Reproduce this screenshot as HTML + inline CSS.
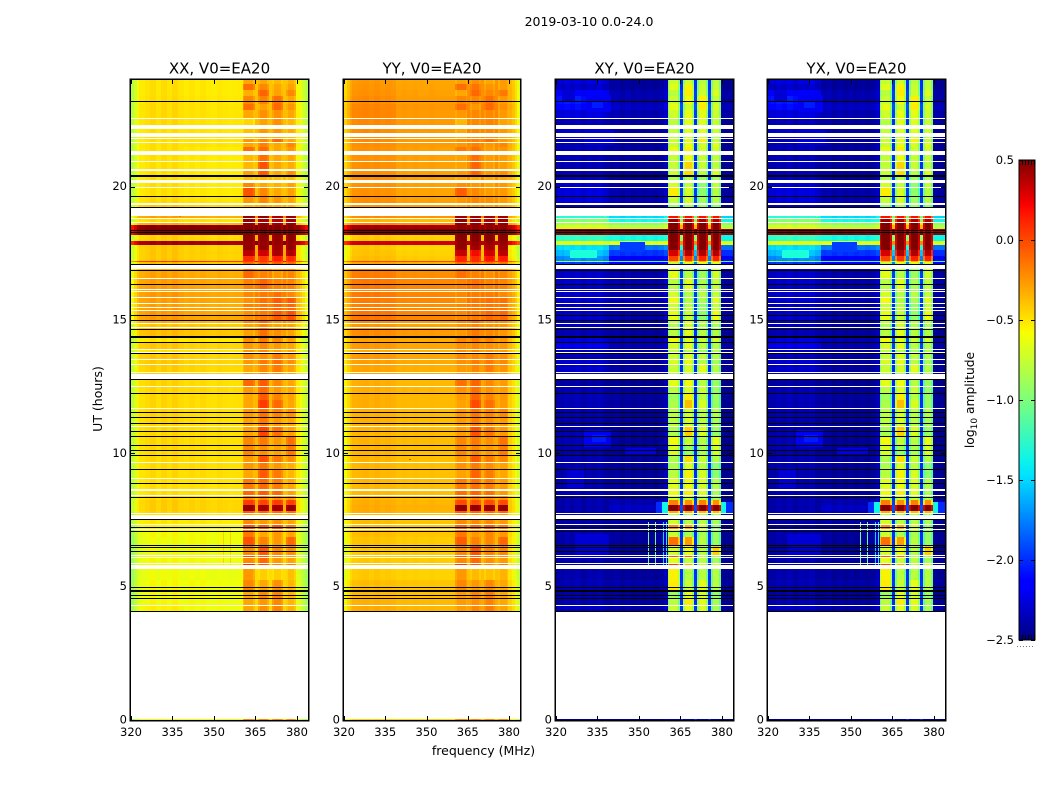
<!DOCTYPE html>
<html lang="en">
<head>
<meta charset="utf-8">
<title>2019-03-10 amplitude spectrogram</title>
<style>
html,body{margin:0;padding:0;background:#fff;}
svg{display:block;}
text{font-family:"DejaVu Sans","Liberation Sans",sans-serif;fill:#000;}
</style>
</head>
<body>
<svg id="chart" xmlns="http://www.w3.org/2000/svg" width="1050" height="800" viewBox="0 0 1050 800">
  <defs>
    <linearGradient id="jet-gradient" x1="0" y1="1" x2="0" y2="0">
      <stop offset="0" stop-color="#00007f"/>
      <stop offset="0.11" stop-color="#0000ff"/>
      <stop offset="0.125" stop-color="#0000ff"/>
      <stop offset="0.34" stop-color="#00e0ff"/>
      <stop offset="0.375" stop-color="#0cf4ea"/>
      <stop offset="0.5" stop-color="#7dff7a"/>
      <stop offset="0.64" stop-color="#f8ff00"/>
      <stop offset="0.66" stop-color="#ffea00"/>
      <stop offset="0.89" stop-color="#ff1300"/>
      <stop offset="0.91" stop-color="#f60000"/>
      <stop offset="1" stop-color="#7f0000"/>
    </linearGradient>
  </defs>
  <text x="589" y="26" font-size="12.5" text-anchor="middle">2019-03-10 0.0-24.0</text>
  <text x="483.5" y="755" font-size="12.5" text-anchor="middle">frequency (MHz)</text>
  <text x="0" y="0" font-size="12.5" text-anchor="middle" transform="translate(102,399) rotate(-90)">UT (hours)</text>
  <g id="panels"></g>
  <g id="colorbar">
    <rect x="1019" y="160" width="16" height="480" fill="url(#jet-gradient)" stroke="#000" stroke-width="1"/>
    <text x="0" y="0" font-size="12.3" text-anchor="middle" transform="translate(974,400) rotate(-90)">log<tspan font-size="9" dy="3">10</tspan><tspan dy="-3"> amplitude</tspan></text>
    <line x1="1017" y1="646.5" x2="1035" y2="646.5" stroke="#777" stroke-width="1" stroke-dasharray="1 2"/>
  </g>
</svg>
<script>
// ---- axis values ----
const panelTitles = ["XX, V0=EA20", "YY, V0=EA20", "XY, V0=EA20", "YX, V0=EA20"];
const xTickValues = [320, 335, 350, 365, 380];
const yTickValues = [0, 5, 10, 15, 20];
const colorTickValues = [0.5, 0, -0.5, -1, -1.5, -2, -2.5];
const colorTickLabels = ["0.5", "0.0", "\u22120.5", "\u22121.0", "\u22121.5", "\u22122.0", "\u22122.5"];

// ---- frequency channels (MHz edges) and which row-level column each channel reads ----
const freqEdgesMHz = [320,321,322,323,325,327,329,331,333,335,337,339,341,343,345,347,349,351,353,355,357,359,360.4,361,364.2,364.8,365.9,366.6,369.1,369.8,371,371.7,374.3,375,375.9,376.6,379.1,379.8,381,382,383,384];
const channelLevelColumn = [0,0,0,0,0,0,0,0,0,0,0,1,1,1,1,1,1,1,1,1,1,1,2,2,2,1,3,3,3,1,4,4,4,1,5,5,5,1,1,1,1];
const xxChannelOffset = [-.3,-.18,-.08,-.02,0,.03,-.01,.03,0,.04,0,0,.02,0,.02,0,-.01,.01,0,-.01,0,0,-.07,0,-.07,.13,-.07,0,-.07,.13,-.07,0,-.07,.13,-.07,0,-.07,-.04,-.1,-.17,-.28];
const yyChannelOffset = [-.22,-.13,-.05,0,.01,.02,0,.02,0,.01,0,0,.01,0,.01,0,0,.01,0,0,0,0,-.06,0,-.06,.06,-.06,0,-.06,.06,-.06,0,-.06,.06,-.06,0,-.06,-.06,-.12,-.2,-.32];
const xyChannelOffset = [0,.03,0,.05,.02,.06,0,.05,.03,.06,0,.03,.05,0,.04,0,.03,0,.03,0,.03,.1,-.2,.08,-.2,.45,-.2,.08,-.2,.45,-.2,.08,-.2,.45,-.2,.08,-.2,0,0,0,0];

// ---- time samples: each span is [later sample, earlier sample]; sample cadence below ----
const sampleHours = 0.0375;
const rowSpans = [[640,636],[636,630],[630,624],[624,616],[616,610],[610,602],[601,595],[591,587],[583,582],[581,578],[577,573],[573,569],[565,559],[558,551],[549,544],[544,540],[537,533],[532,524],[524,517],[515,512],[504,502],[501,498],[497,495],[495,491],[491,485],[485,479],[479,475],[475,470],[470,464],[464,459],[459,458],[458,456],[451,442],[441,431],[430,429],[428,423],[422,417],[416,413],[412,410],[409,400],[400,397],[396,393],[392,384],[384,378],[377,371],[370,368],[367,361],[360,356],[355,348],[347,346],[341,334],[333,327],[327,320],[320,312],[311,303],[303,294],[293,284],[284,275],[275,265],[265,258],[257,251],[251,242],[241,231],[229,225],[224,220],[220,215],[215,209],[209,207],[206,205],[201,196],[195,191],[190,183],[183,175],[175,165],[164,163],[162,157],[156,155],[151,140],[140,130],[130,122],[122,115],[114,109],[1.5,0]];

// ---- flagged integrations drawn as black lines (sample numbers) ----
const flagLineSamples = [619,545,544,524,513,490,488,456,450,436,405,400,391,384,383,378,367,341,327,308,303,297,289,284,275,270,265,251,237,223,201,193,189,175,173,169,133,130,129,125,122,109];

// ---- log10 amplitude per row: [bg 320-340, bg 340-360+gaps, block1, block2, block3, block4] ----
const xxLevels = [
[-.5,-.52,-.3,-.3,-.36,-.33],[-.5,-.52,-.12,-.2,-.3,-.28],[-.5,-.52,-.32,-.08,-.28,-.2],[-.49,-.51,-.2,-.18,-.12,-.3],[-.48,-.5,-.12,-.28,-.1,-.25],[-.48,-.5,-.3,-.22,-.22,-.3],[-.48,-.5,-.45,-.28,-.22,-.35],[-.5,-.5,-.38,-.25,-.25,-.32],[-.5,-.5,-.4,-.3,-.3,-.35],[-.5,-.5,-.25,-.2,-.1,-.3],
[-.5,-.5,-.3,-.18,-.3,-.2],[-.5,-.52,-.12,-.1,-.3,-.25],[-.5,-.52,-.35,-.12,-.3,-.3],[-.5,-.52,-.35,-.03,-.3,-.32],[-.5,-.52,-.28,-.05,-.3,-.22],[-.5,-.5,-.38,-.35,-.38,-.38],[-.5,-.52,-.2,-.3,-.33,-.28],[-.5,-.52,-.03,-.2,-.3,-.28],[-.48,-.5,-.25,-.2,-.25,-.3],[-.42,-.45,-.35,-.3,-.33,-.35],
[-.3,-.32,.45,.45,.4,.45],[-.48,-.5,.45,.4,.35,.42],[-.32,-.34,.45,.45,.42,.45],[.48,.48,.5,.5,.5,.5],[.5,.5,.5,.5,.5,.5],[-.45,-.47,.47,.47,.45,.47],[.4,.4,.45,.45,.45,.45],[-.42,-.45,.45,.45,.42,.45],[-.42,-.44,.35,.3,.4,.38],[-.42,-.44,.1,.05,.15,.1],
[.05,.05,.05,.08,.05,.05],[-.38,-.4,-.1,-.05,-.05,-.1],[-.3,-.32,-.1,-.18,-.25,-.2],[-.28,-.3,-.18,-.08,-.18,-.18],[-.3,-.3,-.2,-.15,-.2,-.2],[-.27,-.3,-.2,-.15,-.12,-.2],[-.28,-.3,-.22,-.12,-.05,-.05],[-.3,-.32,-.18,-.15,-.1,-.1],[-.28,-.3,-.2,-.12,-.08,-.1],[-.27,-.3,-.22,-.15,-.05,-.02],
[-.33,-.35,-.2,-.1,-.25,-.25],[-.42,-.42,-.3,-.2,-.3,-.3],[-.38,-.4,-.28,-.12,-.22,-.28],[-.52,-.52,-.22,-.15,-.2,-.28],[-.42,-.45,-.25,-.2,-.25,-.3],[-.5,-.5,-.25,-.2,-.28,-.3],[-.42,-.45,-.22,-.22,-.15,-.25],[-.42,-.45,-.25,-.15,-.12,-.22],[-.44,-.46,-.3,-.2,-.15,-.28],[-.45,-.45,-.25,-.2,-.2,-.3],
[-.46,-.48,-.1,-.05,-.2,-.3],[-.47,-.47,-.25,-.1,-.25,-.3],[-.47,-.48,-.3,-.05,-.18,-.28],[-.47,-.48,-.3,.05,-.1,-.3],[-.46,-.48,-.25,-.12,-.18,-.22],[-.46,-.48,-.28,-.15,-.25,-.3],[-.47,-.48,-.28,.02,-.12,-.28],[-.47,-.48,-.2,-.15,-.25,-.12],[-.47,-.48,-.2,-.22,-.28,-.15],[-.47,-.48,-.25,-.02,-.15,-.22],
[-.48,-.48,-.25,-.15,-.25,-.33],[-.48,-.48,-.3,-.05,-.15,-.35],[-.5,-.5,-.15,-.1,-.15,-.3],[-.5,-.5,-.1,-.05,-.1,-.28],[-.47,-.48,-.2,-.18,-.22,-.25],[-.44,-.45,.05,.02,.05,.05],[-.44,-.45,.45,.42,.42,.45],[-.46,-.47,-.05,-.08,-.1,-.12],[-.52,-.52,-.3,-.3,-.3,-.3],[-.52,-.52,-.2,-.25,-.22,-.3],
[-.55,-.55,-.03,-.05,-.03,-.15],[-.58,-.58,-.15,-.3,-.25,-.3],[-.6,-.58,-.02,-.18,-.25,-.1],[-.6,-.58,-.2,-.05,-.2,-.22],[-.6,-.58,0,-.05,-.2,-.25],[-.58,-.58,-.2,-.1,-.25,-.28],[-.58,-.58,.1,-.02,-.18,-.15],[-.6,-.6,-.25,-.42,-.42,-.38],[-.58,-.58,-.2,-.3,-.22,-.35],[-.58,-.58,-.3,-.2,-.18,-.35],
[-.58,-.58,-.3,-.25,-.2,-.35],[-.55,-.58,-.3,-.22,-.18,-.33],[-.6,-.6,-.2,-.2,-.2,-.2]];

const yyLevels = [
[-.26,-.3,-.28,-.22,-.3,-.26],[-.25,-.29,-.12,-.14,-.24,-.26],[-.24,-.28,-.3,-.1,-.2,-.15],[-.22,-.27,-.2,-.2,-.12,-.25],[-.2,-.25,-.12,-.25,-.1,-.22],[-.2,-.26,-.25,-.2,-.2,-.25],[-.21,-.26,-.35,-.2,-.18,-.28],[-.22,-.26,-.3,-.2,-.2,-.25],[-.22,-.26,-.3,-.22,-.22,-.28],[-.22,-.26,-.22,-.18,-.12,-.26],
[-.23,-.27,-.25,-.18,-.25,-.2],[-.24,-.28,-.15,-.12,-.26,-.24],[-.24,-.28,-.28,-.12,-.26,-.26],[-.23,-.28,-.28,-.08,-.26,-.27],[-.23,-.28,-.25,-.08,-.25,-.22],[-.23,-.28,-.3,-.3,-.3,-.3],[-.24,-.28,-.22,-.25,-.28,-.25],[-.24,-.29,-.06,-.2,-.26,-.25],[-.23,-.28,-.25,-.2,-.22,-.26],[-.24,-.27,-.28,-.25,-.28,-.28],
[-.22,-.24,.42,.42,.4,.42],[-.36,-.38,.46,.42,.4,.42],[-.2,-.22,.46,.46,.46,.46],[.4,.4,.46,.46,.46,.46],[.5,.5,.5,.5,.5,.5],[-.42,-.44,.48,.48,.48,.48],[.3,.3,.45,.45,.45,.45],[-.42,-.46,.45,.42,.4,.42],[-.4,-.44,.32,.2,.3,.35],[-.38,-.42,.12,.1,.18,.15],
[0,0,.1,.1,.08,.08],[-.3,-.33,-.1,-.12,-.12,-.12],[-.17,-.22,-.12,-.18,-.22,-.2],[-.16,-.2,-.18,-.12,-.18,-.18],[-.2,-.22,-.2,-.15,-.2,-.2],[-.16,-.2,-.2,-.16,-.15,-.2],[-.17,-.2,-.22,-.14,-.12,-.12],[-.19,-.23,-.2,-.16,-.15,-.15],[-.17,-.21,-.2,-.14,-.12,-.14],[-.15,-.2,-.2,-.16,-.1,-.1],
[-.22,-.26,-.2,-.12,-.22,-.22],[-.27,-.3,-.25,-.2,-.25,-.25],[-.22,-.26,-.25,-.15,-.2,-.24],[-.3,-.32,-.2,-.16,-.18,-.24],[-.26,-.3,-.22,-.2,-.22,-.25],[-.32,-.34,-.22,-.2,-.25,-.26],[-.26,-.3,-.2,-.2,-.16,-.22],[-.28,-.31,-.22,-.16,-.15,-.2],[-.3,-.33,-.26,-.2,-.16,-.24],[-.3,-.33,-.24,-.2,-.2,-.26],
[-.33,-.36,-.12,-.08,-.2,-.26],[-.33,-.35,-.22,-.12,-.22,-.26],[-.33,-.36,-.26,-.08,-.18,-.25],[-.33,-.36,-.28,0,-.12,-.26],[-.34,-.37,-.24,-.14,-.18,-.2],[-.34,-.37,-.26,-.16,-.22,-.26],[-.35,-.37,-.26,-.02,-.14,-.25],[-.35,-.37,-.2,-.15,-.22,-.14],[-.35,-.38,-.2,-.2,-.25,-.16],[-.35,-.38,-.24,-.05,-.16,-.2],
[-.36,-.38,-.24,-.16,-.22,-.28],[-.36,-.38,-.28,-.08,-.16,-.3],[-.36,-.38,-.16,-.12,-.16,-.26],[-.37,-.38,-.12,-.08,-.12,-.25],[-.36,-.38,-.2,-.18,-.2,-.22],[-.33,-.35,0,-.02,0,0],[-.32,-.34,.46,.45,.45,.46],[-.33,-.36,-.05,-.08,-.1,-.1],[-.38,-.4,-.25,-.25,-.25,-.25],[-.38,-.4,-.2,-.2,-.2,-.25],
[-.38,-.4,-.08,-.08,-.05,-.15],[-.38,-.4,-.15,-.25,-.2,-.25],[-.4,-.42,-.06,-.18,-.2,-.1],[-.42,-.42,-.2,-.03,-.18,-.2],[-.42,-.42,-.02,-.05,-.18,-.22],[-.42,-.42,-.2,-.1,-.22,-.25],[-.42,-.42,.05,-.03,-.18,-.15],[-.42,-.44,-.25,-.36,-.38,-.34],[-.38,-.4,-.2,-.25,-.2,-.3],[-.36,-.38,-.26,-.18,-.16,-.3],
[-.34,-.36,-.26,-.22,-.18,-.3],[-.32,-.35,-.26,-.2,-.16,-.28],[-.45,-.45,-.2,-.2,-.2,-.2]];

const xyLevels = [
[-2.3,-2.45,-.8,-.78,-.85,-.82],[-2.35,-2.45,-.72,-.62,-.8,-.8],[-2.2,-2.4,-.85,-.6,-.78,-.72],[-2.1,-2.4,-.8,-.65,-.62,-.8],[-2.15,-2.35,-.7,-.78,-.6,-.75],[-2.3,-2.4,-.78,-.68,-.7,-.78],[-2.4,-2.45,-.85,-.7,-.72,-.8],[-2.35,-2.45,-.82,-.72,-.72,-.78],[-2.4,-2.45,-.85,-.75,-.75,-.82],[-2.4,-2.45,-.78,-.7,-.62,-.8],
[-2.4,-2.45,-.8,-.66,-.75,-.7],[-2.4,-2.45,-.68,-.62,-.78,-.75],[-2.4,-2.45,-.82,-.66,-.8,-.8],[-2.4,-2.45,-.82,-.52,-.8,-.82],[-2.4,-2.45,-.8,-.55,-.85,-.72],[-2.35,-2.45,-.9,-.85,-.95,-.9],[-2.35,-2.45,-.75,-.82,-1,-.8],[-2.3,-2.42,-.6,-.75,-1,-.85],[-2.3,-2.4,-.82,-.75,-.95,-.85],[-2.4,-2.45,-1,-.9,-.95,-1],
[-1.35,-1.5,.1,.1,.1,.1],[-1,-1.4,.35,.3,.3,.3],[-.85,-.95,.45,.45,.45,.45],[-.72,-.8,.5,.5,.5,.5],[.45,.45,.5,.5,.5,.5],[-1.3,-1.4,.5,.5,.5,.5],[-.65,-.65,.45,.45,.45,.45],[-1.5,-1.8,.45,.45,.45,.45],[-1.6,-2,.2,.3,.3,.3],[-1.75,-2.2,-.05,0,.05,.05],
[-.9,-1.2,-.45,-.4,-.4,-.45],[-2,-2.2,-.8,-.7,-.7,-.7],[-2.35,-2.42,-.7,-.85,-.95,-.75],[-2.35,-2.42,-.85,-.7,-.9,-.8],[-2.4,-2.45,-.85,-.8,-.9,-.85],[-2.35,-2.42,-.75,-.85,-.85,-.8],[-2.35,-2.42,-.65,-.85,-.9,-.7],[-2.4,-2.45,-.8,-.85,-1,-.8],[-2.4,-2.45,-.78,-.8,-.95,-.75],[-2.35,-2.42,-.7,-.8,-1,-.65],
[-2.35,-2.42,-.8,-.7,-.85,-.8],[-2.4,-2.45,-.9,-.75,-.9,-.9],[-2.4,-2.45,-.85,-.7,-.85,-.85],[-2.3,-2.4,-.65,-.7,-.8,-.75],[-2.25,-2.4,-.75,-.7,-.85,-.85],[-2.4,-2.45,-.85,-.85,-.95,-.85],[-2.4,-2.45,-.8,-.72,-.82,-.85],[-2.35,-2.45,-.75,-.68,-.85,-.9],[-2.35,-2.45,-.8,-.75,-.7,-.85],[-2.4,-2.45,-.82,-.8,-.85,-.9],
[-2.45,-2.48,-.7,-.65,-.85,-.95],[-2.4,-2.45,-.85,-.72,-.8,-.95],[-2.4,-2.45,-.95,-.6,-.85,-.95],[-2.4,-2.45,-.9,-.45,-.75,-.95],[-2.4,-2.45,-.85,-.75,-.85,-.85],[-2.42,-2.45,-.85,-.75,-.85,-.9],[-2.42,-2.46,-.9,-.5,-.75,-.95],[-2.4,-2.46,-.65,-.8,-.85,-.68],[-2.42,-2.46,-.75,-.95,-.9,-.75],[-2.42,-2.46,-.9,-.55,-.8,-.85],
[-2.42,-2.46,-.9,-.72,-.85,-1],[-2.42,-2.46,-.85,-.62,-.75,-1],[-2.42,-2.46,-.72,-.65,-.75,-.85],[-2.42,-2.46,-.65,-.6,-.72,-.9],[-2.42,-2.46,-.8,-.8,-.85,-.9],[-2.42,-2.4,-.25,-.3,-.25,-.3],[-2.42,-2.35,.48,.46,.46,.48],[-2.42,-2.4,-.4,-.42,-.45,-.45],[-2.45,-2.46,-.9,-.9,-.9,-.9],[-2.45,-2.45,-.75,-.85,-.85,-.9],
[-2.42,-2.45,-.3,-.4,-.75,-.95],[-2.42,-2.45,-.8,-.9,-.9,-.95],[-2.42,-2.45,-.2,-.35,-.85,-.95],[-2.42,-2.45,-.75,-.65,-.85,-.5],[-2.42,-2.45,-.1,-.15,-.85,-.9],[-2.42,-2.45,-.7,-.8,-.85,-.9],[-2.42,-2.45,-.05,-.4,-.8,-.7],[-2.42,-2.45,-.62,-.85,-.85,-.85],[-2.4,-2.42,-.6,-.8,-.7,-.85],[-2.42,-2.45,-.95,-.7,-.75,-.95],
[-2.42,-2.45,-.85,-.6,-.7,-.9],[-2.38,-2.42,-.8,-.7,-.75,-.9],[-2.5,-2.5,-2.5,-2.5,-2.5,-2.5]];

const yxLevels = xyLevels;

// ---- localized features: [low MHz, high MHz, later sample, earlier sample, log10 amplitude] ----
const xxFeatures = [[353.2,353.7,193,155,-.42],[355.7,356.2,193,155,-.42],[337.5,338,566,565,.0],[337.5,338,508,503,-.15]];
const yyFeatures = [[343.5,344.4,261,260,.0]];
const xyFeatures = [
[331,340,625,608,-2.2],[333,337,618,612,-2.05],[322,327,630,618,-2.28],[330,341,590,575,-2.28],[325,335,470,462,-1.35],[343,352,478,468,-1.95],
[330,340,290,273,-2.2],[333,338,285,278,-2.05],[327,339,186,165,-2.28],[345,356,272,266,-2.25],[324,330,252,232,-2.28],
[356,358.5,218,207,-2],[358.5,360.4,218,207,-1.4],[379.8,381.5,218,207,-1.4],[381.5,384,218,207,-2],
[353.2,353.7,198,155,-1],[355.7,356.2,198,155,-1.1],[358.6,359,198,155,-1.5],[359.7,360.1,198,155,-1.4],
[337.5,338,508,503,-1]];
const yxFeatures = xyFeatures;

// ---- layout ----
const panelLefts = [131, 344, 556, 768];
const panelWidths = [177, 176, 177, 177];
const plotTop = 80, plotBottom = 720;
const freqMin = 320, freqMax = 384, hourMax = 24;
const colorMin = -2.5, colorMax = 0.5;
const NS = "http://www.w3.org/2000/svg";

function xScale(panel, freq) {
  return panelLefts[panel] + (freq - freqMin) / (freqMax - freqMin) * panelWidths[panel];
}
function yScale(hour) {
  return plotBottom - hour / hourMax * (plotBottom - plotTop);
}
function ramp(t, a, b, va, vb) { return va + (vb - va) * (t - a) / (b - a); }
function jet(value) {
  const t = Math.max(0, Math.min(1, (value - colorMin) / (colorMax - colorMin)));
  const r = t < .35 ? 0 : t < .66 ? ramp(t, .35, .66, 0, 1) : t < .89 ? 1 : ramp(t, .89, 1, 1, .5);
  const g = t < .125 ? 0 : t < .375 ? ramp(t, .125, .375, 0, 1) : t < .64 ? 1 : t < .91 ? ramp(t, .64, .91, 1, 0) : 0;
  const b = t < .11 ? ramp(t, 0, .11, .5, 1) : t < .34 ? 1 : t < .65 ? ramp(t, .34, .65, 1, 0) : 0;
  return "rgb(" + Math.round(r * 255) + "," + Math.round(g * 255) + "," + Math.round(b * 255) + ")";
}
function make(tag, parent) {
  const el = document.createElementNS(NS, tag);
  parent.appendChild(el);
  return el;
}
function setAll(el, pairs) {
  for (const k in pairs) el.setAttribute(k, pairs[k]);
}

const panelLevels = [xxLevels, yyLevels, xyLevels, yxLevels];
const panelOffsets = [xxChannelOffset, yyChannelOffset, xyChannelOffset, xyChannelOffset];
const panelFeatures = [xxFeatures, yyFeatures, xyFeatures, yxFeatures];
const root = document.getElementById("panels");

panelTitles.forEach(function (title, p) {
  const group = make("g", root);
  
  

  const levels = panelLevels[p], offsets = panelOffsets[p];
  rowSpans.forEach(function (span, r) {
    const yTop = Math.round(yScale(span[0] * sampleHours));
    const yBot = Math.round(yScale(span[1] * sampleHours));
    for (let c = 0; c < freqEdgesMHz.length - 1; c++) {
      const x0 = Math.round(xScale(p, freqEdgesMHz[c]));
      const x1 = Math.round(xScale(p, freqEdgesMHz[c + 1]));
      const v = levels[r][channelLevelColumn[c]] + offsets[c];
      const cell = make("rect", group);
      
      
      setAll(cell, { x: x0, y: yTop, width: x1 - x0, height: yBot - yTop, fill: jet(v), "shape-rendering": "crispEdges" });
    }
  });

  panelFeatures[p].forEach(function (f) {
    const x0 = Math.round(xScale(p, f[0]));
    const x1 = Math.max(x0 + 1, Math.round(xScale(p, f[1])));
    rowSpans.forEach(function (span) {
      const later = Math.min(f[2], span[0]);
      const earlier = Math.max(f[3], span[1]);
      if (later <= earlier) return;
      const yTop = Math.round(yScale(later * sampleHours));
      const yBot = Math.round(yScale(earlier * sampleHours));
      const patch = make("rect", group);
      
      
      setAll(patch, { x: x0, y: yTop, width: x1 - x0, height: yBot - yTop, fill: jet(f[4]), "shape-rendering": "crispEdges" });
    });
  });

  const left = panelLefts[p], right = left + panelWidths[p];

  flagLineSamples.forEach(function (s) {
    const y = Math.round(yScale(s * sampleHours)) + 0.5;
    const flag = make("line", group);
    
    
    setAll(flag, { x1: left, x2: right, y1: y, y2: y, stroke: "#000", "stroke-width": 1 });
  });

  const frame = make("rect", group);
  
  
  setAll(frame, { x: left - .75, y: plotTop - .75, width: right - left + 1.5, height: plotBottom - plotTop + 1.5, fill: "none", stroke: "#000", "stroke-width": 1.5 });

  xTickValues.forEach(function (t) {
    const x = Math.round(xScale(p, t)) + .5;
    [[plotBottom, plotBottom - 4], [plotTop, plotTop + 4]].forEach(function (ends) {
      const tick = make("line", group);
      
      
      setAll(tick, { x1: x, x2: x, y1: ends[0], y2: ends[1], stroke: "#000", "stroke-width": 1 });
    });
    const label = make("text", group);
    
    
    setAll(label, { x: xScale(p, t), y: 736, "font-size": 11.5, "text-anchor": "middle" });
    label.textContent = String(t);
  });

  yTickValues.forEach(function (t) {
    const y = Math.round(yScale(t)) + .5;
    [[left, left + 4], [right, right - 4]].forEach(function (ends) {
      const tick = make("line", group);
      
      
      setAll(tick, { x1: ends[0], x2: ends[1], y1: y, y2: y, stroke: "#000", "stroke-width": 1 });
    });
    const label = make("text", group);
    
    
    setAll(label, { x: left - 4, y: yScale(t) + 3.5, "font-size": 11.5, "text-anchor": "end" });
    label.textContent = String(t);
  });

  const heading = make("text", group);
  
  
  setAll(heading, { x: (left + right) / 2, y: 73.5, "font-size": 15, "text-anchor": "middle" });
  heading.textContent = title;
});

const bar = document.getElementById("colorbar");
const barLeft = 1019, barRight = 1035, barTop = 160, barBottom = 640;
function colorScale(v) {
  return barBottom - (v - colorMin) / (colorMax - colorMin) * (barBottom - barTop);
}
colorTickValues.forEach(function (v, i) {
  const y = Math.round(colorScale(v)) + .5;
  [[barLeft, barLeft + 4], [barRight, barRight - 4]].forEach(function (ends) {
    const tick = make("line", bar);
    
    
    setAll(tick, { x1: ends[0], x2: ends[1], y1: y, y2: y, stroke: "#000", "stroke-width": 1 });
  });
  const label = make("text", bar);
  
  
  setAll(label, { x: 1014, y: colorScale(v) + 4, "font-size": 11.5, "text-anchor": "end" });
  label.textContent = colorTickLabels[i];
});
for (let i = 0; i < 5; i++) {
  const x = barLeft + 3.5 + i * 3;
  [[barTop, barTop + 5], [barBottom, barBottom - 5]].forEach(function (ends) {
    const tick = make("line", bar);
    
    
    setAll(tick, { x1: x, x2: x, y1: ends[0], y2: ends[1], stroke: "#000", "stroke-width": 1 });
  });
}
</script>
</body>
</html>
